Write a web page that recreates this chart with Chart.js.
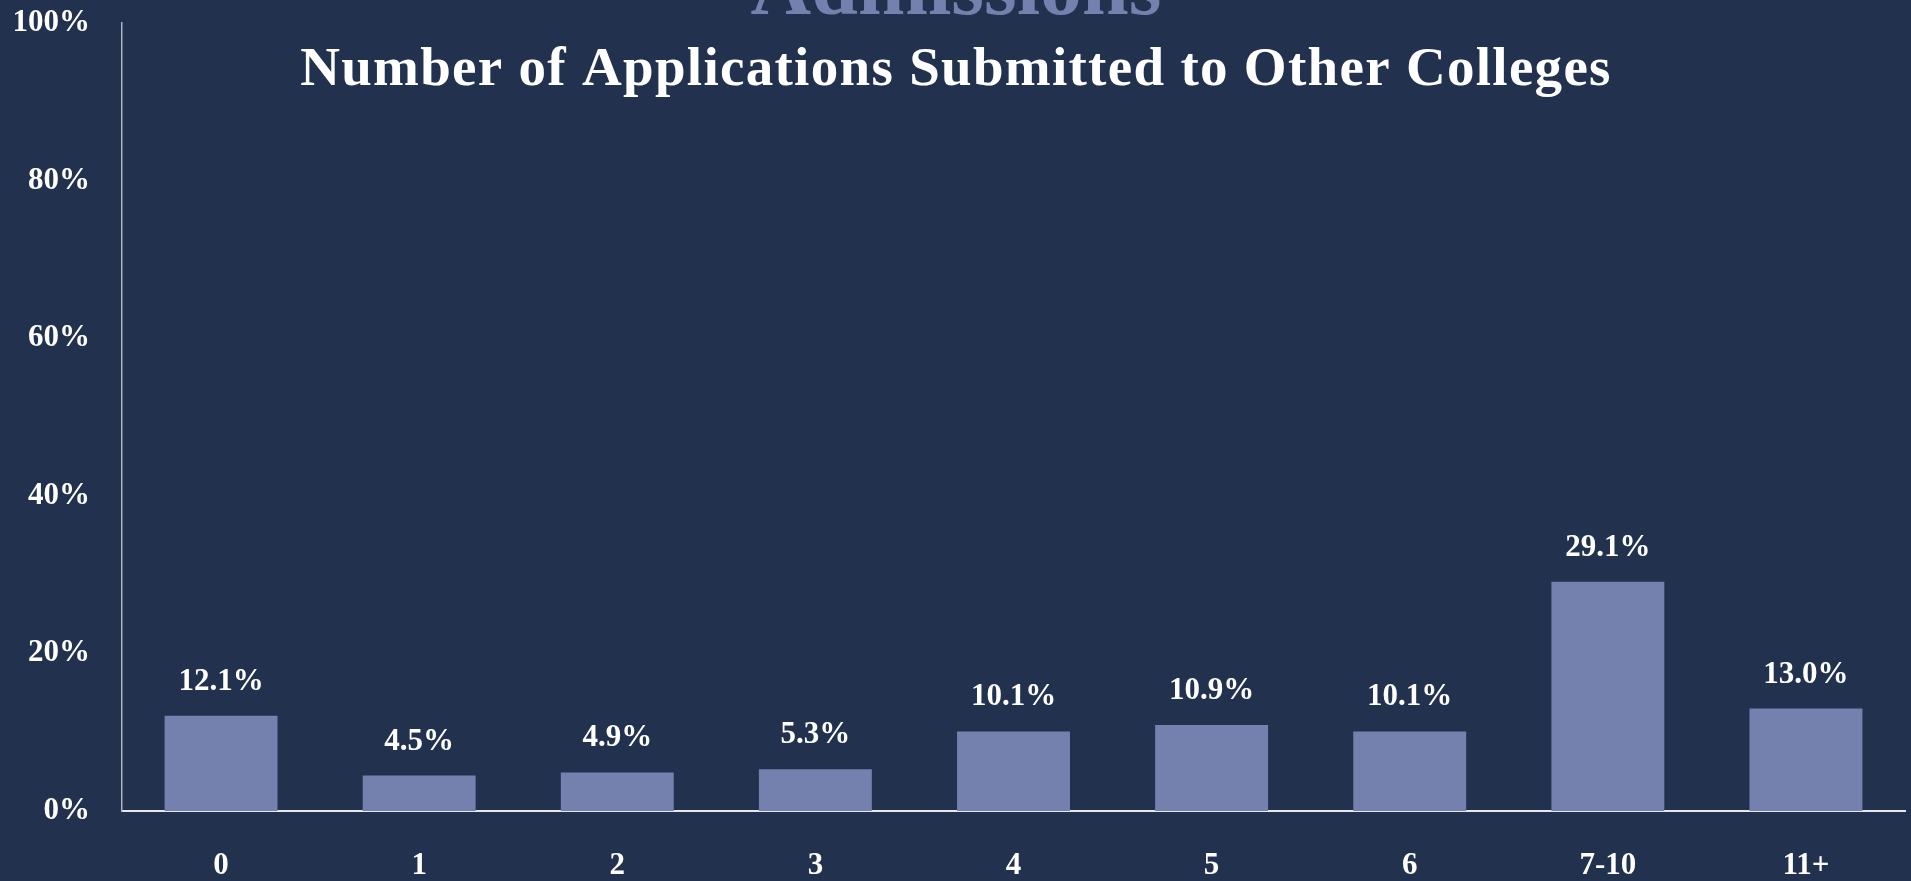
<!DOCTYPE html>
<html lang="en">
<head>
  <meta charset="UTF-8" />
  <title>Number of Applications Submitted to Other Colleges</title>
  <script src="https://cdn.jsdelivr.net/npm/chart.js"></script>
  <style>
    html, body { margin: 0; padding: 0; background: #22324e; overflow: hidden; }
    #wrap { position: relative; width: 1911px; height: 881px; }
  </style>
</head>
<body>
  <div id="wrap">
    <canvas id="grafico" width="1911" height="881"></canvas>
  </div>

  <script>
    const categorias = ["0", "1", "2", "3", "4", "5", "6", "7-10", "11+"];
    const valores = [12.1, 4.5, 4.9, 5.3, 10.1, 10.9, 10.1, 29.1, 13.0];
    const ticksY = [0, 20, 40, 60, 80, 100];

    const fonteSerif = '"Liberation Serif", "Times New Roman", serif';
    const corBarra = '#7480ad';

    // titulo e cabecalho cortado, desenhados por cima da area do grafico
    const titulos = {
      id: 'titulos',
      afterDraw(chart) {
        const ctx = chart.ctx;
        ctx.save();
        ctx.textAlign = 'center';
        ctx.textBaseline = 'alphabetic';
        ctx.fillStyle = corBarra;
        ctx.font = 'bold 84px ' + fonteSerif;
        ctx.fillText('Admissions', 956, 14);
        ctx.fillStyle = '#ffffff';
        ctx.font = 'bold 55px ' + fonteSerif;
        ctx.letterSpacing = '1.3px';
        ctx.fillText('Number of Applications Submitted to Other Colleges', 956, 85);
        ctx.restore();
      }
    };

    // rotulos de valor acima das barras
    const rotulos = {
      id: 'rotulos',
      afterDatasetsDraw(chart) {
        const ctx = chart.ctx;
        const meta = chart.getDatasetMeta(0);
        ctx.save();
        ctx.fillStyle = '#ffffff';
        ctx.font = 'bold 31px ' + fonteSerif;
        ctx.textAlign = 'center';
        ctx.textBaseline = 'middle';
        meta.data.forEach((bar, i) => {
          ctx.fillText(valores[i].toFixed(1) + '%', bar.x, bar.y - 34);
        });
        ctx.restore();
      }
    };

    const ctx = document.getElementById('grafico').getContext('2d');
    new Chart(ctx, {
      type: 'bar',
      data: {
        labels: categorias,
        datasets: [{
          data: valores,
          backgroundColor: corBarra,
          borderWidth: 0,
          barPercentage: 0.57,
          categoryPercentage: 1
        }]
      },
      options: {
        responsive: false,
        animation: false,
        layout: { padding: { top: 0, right: 6, left: 0, bottom: 0 } },
        plugins: {
          legend: { display: false },
          tooltip: { enabled: false },
          title: { display: false }
        },
        scales: {
          x: {
            grid: { display: false, drawTicks: false },
            border: { display: true, color: '#e6e8ee', width: 2 },
            ticks: {
              color: '#ffffff',
              padding: 36,
              font: { family: fonteSerif, size: 31, weight: 'bold' }
            },
            afterFit: s => { s.height = 70; }
          },
          y: {
            min: 0,
            max: 100,
            afterBuildTicks: s => { s.ticks = ticksY.map(v => ({ value: v })); },
            grid: { display: false, drawTicks: false },
            border: { display: true, color: '#aeb4c4', width: 1.5 },
            ticks: {
              color: '#ffffff',
              padding: 32,
              font: { family: fonteSerif, size: 31, weight: 'bold' },
              callback: v => v + '%'
            },
            afterFit: s => { s.width = 122; s.paddingTop = 23; }
          }
        }
      },
      plugins: [rotulos, titulos]
    });
  </script>
</body>
</html>
